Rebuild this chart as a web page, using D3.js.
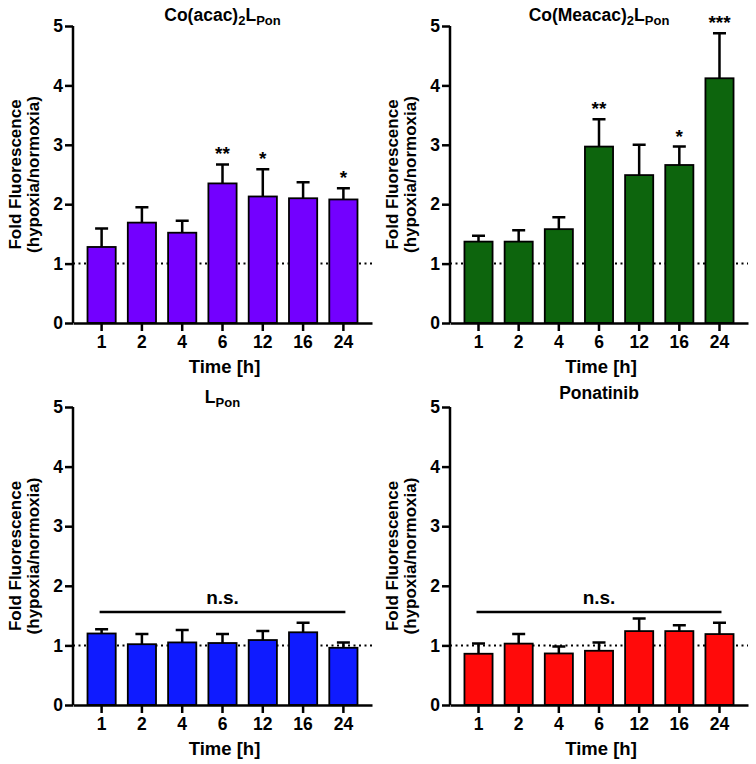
<!DOCTYPE html>
<html>
<head>
<meta charset="utf-8">
<script src="https://cdn.jsdelivr.net/npm/d3@7"></script>
<style>
  body { margin: 0; background: #fff; }
  svg text { font-family: "Liberation Sans", Arial, sans-serif; font-weight: bold; fill: #000; }
</style>
</head>
<body>
<svg id="chart" width="756" height="764"></svg>
<script>
// time points (h)
var times = ["1", "2", "4", "6", "12", "16", "24"];
var yTicks = [0, 1, 2, 3, 4, 5];

// Co(acac)2LPon
var acacMean = [1.28, 1.69, 1.52, 2.35, 2.13, 2.10, 2.08];
var acacErr = [0.31, 0.26, 0.20, 0.32, 0.46, 0.27, 0.19];
var acacStars = ["", "", "", "**", "*", "", "*"];

// Co(Meacac)2LPon
var meacacMean = [1.37, 1.37, 1.58, 2.97, 2.49, 2.66, 4.12];
var meacacErr = [0.10, 0.19, 0.20, 0.46, 0.51, 0.31, 0.76];
var meacacStars = ["", "", "", "**", "", "*", "***"];

// LPon
var lponMean = [1.20, 1.02, 1.05, 1.04, 1.09, 1.22, 0.96];
var lponErr = [0.07, 0.17, 0.21, 0.15, 0.15, 0.16, 0.09];

// Ponatinib
var ponaMean = [0.86, 1.03, 0.865, 0.91, 1.24, 1.24, 1.19];
var ponaErr = [0.17, 0.16, 0.115, 0.14, 0.21, 0.10, 0.19];

var svg = d3.select('#chart');

var panels = [
  { title: [["Co(acac)", 0], ["2", 1], ["L", 0], ["Pon", 1]], mean: acacMean, err: acacErr, stars: acacStars,
    color: "#7300ff", x0: 73, x1: 372, yTop: 26, yBot: 323, titleY: 21 },
  { title: [["Co(Meacac)", 0], ["2", 1], ["L", 0], ["Pon", 1]], mean: meacacMean, err: meacacErr, stars: meacacStars,
    color: "#0d650d", x0: 450, x1: 748, yTop: 26, yBot: 323, titleY: 21 },
  { title: [["L", 0], ["Pon", 1]], mean: lponMean, err: lponErr, ns: 1.56,
    color: "#0f1bff", x0: 73, x1: 372, yTop: 407, yBot: 705, titleY: 403 },
  { title: [["Ponatinib", 0]], mean: ponaMean, err: ponaErr, ns: 1.56,
    color: "#ff0a0a", x0: 450, x1: 748, yTop: 407, yBot: 705, titleY: 399 }
];

panels.forEach(drawPanel);

function drawPanel(p) {
  var g = svg.append('g');
  var data = times.map(function (t, i) {
    return { t: t, m: p.mean[i], e: p.err[i], s: p.stars ? p.stars[i] : "" };
  });

  var x = d3.scaleBand().domain(times).range([p.x0, p.x1]).paddingInner(0.3).paddingOuter(0.36);
  var y = d3.scaleLinear().domain([0, 5]).range([p.yBot, p.yTop]);
  var cx = function (d) { return x(d.t) + x.bandwidth() / 2; };

  // reference line at 1
  g.append('line')
    .attr('x1', p.x0).attr('x2', p.x1)
    .attr('y1', y(1)).attr('y2', y(1))
    .style('stroke', '#000').style('stroke-width', 2)
    .style('stroke-dasharray', '2,3.5');

  // error bars (upper only)
  g.selectAll('.err').data(data).enter().append('path')
    .attr('d', function (d) {
      var c = cx(d);
      return 'M' + c + ',' + y(d.m) + 'V' + y(d.m + d.e) + 'M' + (c - 6.5) + ',' + y(d.m + d.e) + 'H' + (c + 6.5);
    })
    .style('stroke', '#000').style('stroke-width', 2.5).style('fill', 'none');

  // bars
  g.selectAll('.bar').data(data).enter().append('rect')
    .attr('x', function (d) { return x(d.t); })
    .attr('y', function (d) { return y(d.m); })
    .attr('width', x.bandwidth())
    .attr('height', function (d) { return y(0) - y(d.m); })
    .style('fill', p.color).style('stroke', '#000').style('stroke-width', 1.8);

  // significance stars
  g.selectAll('.star').data(data.filter(function (d) { return d.s; })).enter().append('text')
    .attr('x', cx)
    .attr('y', function (d) { return y(d.m + d.e) - 4; })
    .attr('text-anchor', 'middle')
    .style('font-size', '19px')
    .text(function (d) { return d.s; });

  // n.s. bracket
  if (p.ns) {
    g.append('line')
      .attr('x1', cx(data[0]) - 2).attr('x2', cx(data[6]) + 2)
      .attr('y1', y(p.ns)).attr('y2', y(p.ns))
      .style('stroke', '#000').style('stroke-width', 2.5);
    g.append('text')
      .attr('x', (p.x0 + p.x1) / 2)
      .attr('y', y(p.ns) - 8)
      .attr('text-anchor', 'middle')
      .style('font-size', '19px')
      .text('n.s.');
  }

  // axes
  var yAxis = d3.axisLeft(y).tickValues(yTicks).tickSize(8).tickPadding(2).tickFormat(d3.format('d'));
  var yg = g.append('g').attr('transform', 'translate(' + p.x0 + ',0)').call(yAxis);
  var xAxis = d3.axisBottom(x).tickSize(8).tickPadding(5).tickSizeOuter(0);
  var xg = g.append('g').attr('transform', 'translate(0,' + p.yBot + ')').call(xAxis);
  [yg, xg].forEach(function (a) {
    a.select('.domain').style('stroke', '#000').style('stroke-width', 2.5);
    a.selectAll('.tick line').style('stroke', '#000').style('stroke-width', 2.5);
    a.selectAll('.tick text').style('font-size', '17.5px').style('font-family', '"Liberation Sans", Arial, sans-serif').style('font-weight', 'bold');
  });
  // replace domain so no outer ticks
  yg.select('.domain').attr('d', 'M0,' + p.yTop + 'V' + p.yBot);

  // y label
  var cy = (p.yTop + p.yBot) / 2;
  g.append('text')
    .attr('transform', 'translate(' + (p.x0 - 52) + ',' + cy + ') rotate(-90)')
    .attr('text-anchor', 'middle')
    .style('font-size', '17px')
    .text('Fold Fluorescence');
  g.append('text')
    .attr('transform', 'translate(' + (p.x0 - 34) + ',' + cy + ') rotate(-90)')
    .attr('text-anchor', 'middle')
    .style('font-size', '17px')
    .text('(hypoxia/normoxia)');

  // x label
  g.append('text')
    .attr('x', (p.x0 + p.x1) / 2 + 2)
    .attr('y', p.yBot + 50)
    .attr('text-anchor', 'middle')
    .style('font-size', '18.5px')
    .text('Time [h]');

  // title with subscripts
  var title = g.append('text')
    .attr('x', (p.x0 + p.x1) / 2)
    .attr('y', p.titleY)
    .attr('text-anchor', 'middle')
    .style('font-size', '17.5px');
  var shift = 0;
  p.title.forEach(function (part) {
    var dy = part[1] ? 4 - shift : -shift;
    shift = part[1] ? 4 : 0;
    title.append('tspan')
      .attr('dy', dy)
      .style('font-size', part[1] ? '13px' : '17.5px')
      .text(part[0]);
  });
}
</script>
</body>
</html>
